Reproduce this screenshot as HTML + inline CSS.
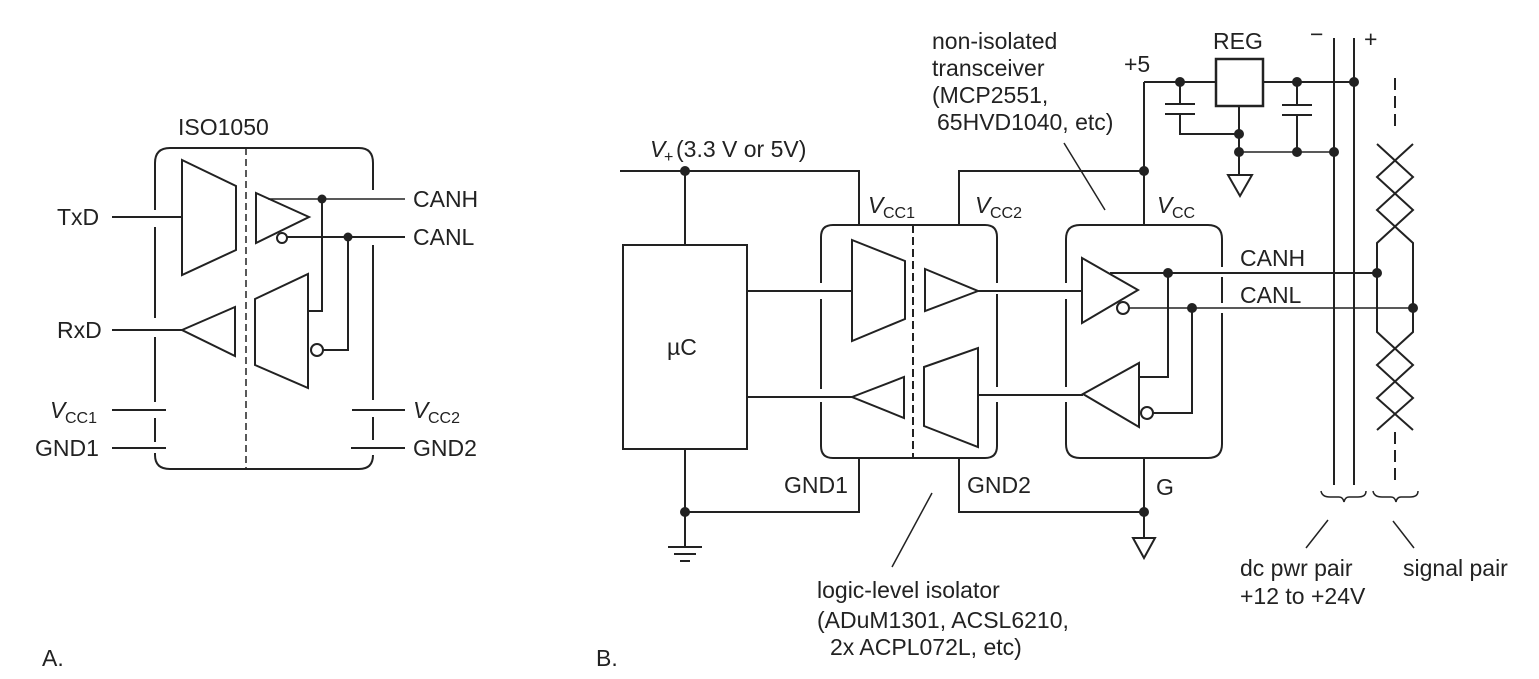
<!DOCTYPE html>
<html><head><meta charset="utf-8"><style>
html,body{margin:0;padding:0;background:#fff;}
svg{display:block;}
text{font-family:"Liberation Sans",sans-serif;font-size:23px;fill:#222;}
.s{font-size:16px;}
</style></head><body>
<svg width="1539" height="679" viewBox="0 0 1539 679" xmlns="http://www.w3.org/2000/svg">
<g stroke="#222" stroke-width="2" fill="none">
<!-- Panel A -->
<path d="M155,163 V210 M155,227 V318 M155,337 V402 M155,418 V442 M155,453 V455 Q155,469 170,469 H359 Q373,469 373,455 V455 M373,440 V417 M373,400 V245 M373,190 V163 Q373,148 359,148 H170 Q155,148 155,163"/>
<line x1="246" y1="148" x2="246" y2="469" stroke-dasharray="7,4" stroke-width="1.5"/>
<polygon points="182,160 236,186 236,250 182,275"/>
<line x1="112" y1="217" x2="182" y2="217"/>
<polygon points="256,193 309,217 256,243"/>
<circle cx="282" cy="238" r="5" fill="#fff"/>
<line x1="268" y1="199" x2="405" y2="199" stroke-width="1.5"/>
<line x1="287" y1="237" x2="405" y2="237"/>
<polygon points="255,299 308,274 308,388 255,365"/>
<polyline points="308,311 322,311 322,199"/>
<circle cx="317" cy="350" r="6" fill="#fff"/>
<polyline points="323,350 348,350 348,237"/>
<polygon points="182,330 235,307 235,356"/>
<line x1="112" y1="330" x2="182" y2="330"/>
<line x1="112" y1="410" x2="166" y2="410"/>
<line x1="112" y1="448" x2="166" y2="448"/>
<line x1="352" y1="410" x2="405" y2="410"/>
<line x1="351" y1="448" x2="405" y2="448"/>

<!-- Panel B -->
<polyline points="620,171 859,171 859,225"/>
<rect x="623" y="245" width="124" height="204"/>
<line x1="685" y1="171" x2="685" y2="245"/>
<line x1="685" y1="449" x2="685" y2="547"/>
<polyline points="685,512 859,512 859,458"/>
<line x1="668" y1="547" x2="702" y2="547"/>
<line x1="674" y1="554" x2="696" y2="554"/>
<line x1="680" y1="561" x2="690" y2="561"/>
<path d="M821,283 V237 Q821,225 833,225 H985 Q997,225 997,237 V283 M997,294 V387 M997,402 V446 Q997,458 985,458 H833 Q821,458 821,446 V402 M821,389 V299"/>
<line x1="913" y1="225" x2="913" y2="458" stroke-dasharray="8,4"/>
<polygon points="852,240 905,261 905,319 852,341"/>
<line x1="747" y1="291" x2="852" y2="291"/>
<polygon points="925,269 978,291 925,311"/>
<line x1="978" y1="291" x2="1082" y2="291"/>
<polygon points="852,397 904,377 904,418"/>
<line x1="747" y1="397" x2="852" y2="397"/>
<polygon points="924,367 978,348 978,447 924,426"/>
<line x1="978" y1="395" x2="1083" y2="395"/>
<polyline points="959,225 959,171 1144,171"/>
<polyline points="959,458 959,512 1144,512"/>
<line x1="932" y1="493" x2="892" y2="567" stroke-width="1.5"/>
<path d="M1066,283 V239 Q1066,225 1080,225 H1208 Q1222,225 1222,239 V267 M1222,277 V303 M1222,313 V444 Q1222,458 1208,458 H1080 Q1066,458 1066,444 V402 M1066,387 V299"/>
<line x1="1144" y1="82" x2="1144" y2="225"/>
<polygon points="1082,258 1138,290 1082,323"/>
<circle cx="1123" cy="308" r="6" fill="#fff"/>
<line x1="1110" y1="273" x2="1377" y2="273"/>
<line x1="1129" y1="308" x2="1413" y2="308" stroke-width="1.5"/>
<polygon points="1083,394 1139,363 1139,427"/>
<polyline points="1139,377 1168,377 1168,273"/>
<circle cx="1147" cy="413" r="6" fill="#fff"/>
<polyline points="1153,413 1192,413 1192,308"/>
<line x1="1144" y1="458" x2="1144" y2="538"/>
<polygon points="1133,538 1155,538 1144,558"/>
<line x1="1064" y1="143" x2="1105" y2="210" stroke-width="1.5"/>
<line x1="1144" y1="82" x2="1216" y2="82"/>
<rect x="1216" y="59" width="47" height="47" stroke-width="2.5"/>
<line x1="1263" y1="82" x2="1354" y2="82"/>
<line x1="1180" y1="82" x2="1180" y2="104"/>
<line x1="1165" y1="104" x2="1195" y2="104"/>
<line x1="1165" y1="114" x2="1195" y2="114"/>
<polyline points="1180,114 1180,134 1239,134"/>
<line x1="1239" y1="106" x2="1239" y2="175"/>
<polygon points="1228,175 1252,175 1240,196"/>
<line x1="1239" y1="152" x2="1334" y2="152" stroke-width="1.5"/>
<line x1="1297" y1="82" x2="1297" y2="105"/>
<line x1="1282" y1="105" x2="1312" y2="105"/>
<line x1="1282" y1="115" x2="1312" y2="115"/>
<line x1="1297" y1="115" x2="1297" y2="152"/>
<line x1="1334" y1="38" x2="1334" y2="485"/>
<line x1="1354" y1="38" x2="1354" y2="485"/>
<line x1="1395" y1="78" x2="1395" y2="128" stroke-dasharray="12,6"/>
<line x1="1395" y1="432" x2="1395" y2="485" stroke-dasharray="12,6"/>
<polyline points="1413,144 1377,177 1413,210 1377,243 1377,332 1413,365 1377,398 1413,430"/>
<polyline points="1377,144 1413,177 1377,210 1413,243 1413,332 1377,365 1413,398 1377,430"/>
<path d="M1321,491 Q1322,497 1330,497 H1339 Q1343,497 1344,502 Q1345,497 1349,497 H1358 Q1366,497 1366,491" stroke-width="1.5"/>
<path d="M1373,491 Q1374,497 1382,497 H1391 Q1395,497 1396,502 Q1397,497 1401,497 H1410 Q1418,497 1418,491" stroke-width="1.5"/>
<line x1="1328" y1="520" x2="1306" y2="548" stroke-width="1.5"/>
<line x1="1393" y1="521" x2="1414" y2="548" stroke-width="1.5"/>
</g>
<g fill="#222">
<circle cx="322" cy="199" r="4.5"/><circle cx="348" cy="237" r="4.5"/>
<circle cx="685" cy="171" r="5"/><circle cx="685" cy="512" r="5"/>
<circle cx="1144" cy="171" r="5"/><circle cx="1144" cy="512" r="5"/>
<circle cx="1168" cy="273" r="5"/><circle cx="1192" cy="308" r="5"/>
<circle cx="1377" cy="273" r="5"/><circle cx="1413" cy="308" r="5"/>
<circle cx="1180" cy="82" r="5"/><circle cx="1297" cy="82" r="5"/><circle cx="1354" cy="82" r="5"/>
<circle cx="1239" cy="134" r="5"/><circle cx="1239" cy="152" r="5"/>
<circle cx="1297" cy="152" r="5"/><circle cx="1334" cy="152" r="5"/>
</g>
<text x="178" y="135">ISO1050</text>
<text x="57" y="225">TxD</text>
<text x="57" y="338">RxD</text>
<text x="50" y="418" font-style="italic">V</text><text class="s" x="65" y="423">CC1</text>
<text x="35" y="456">GND1</text>
<text x="413" y="207">CANH</text>
<text x="413" y="245">CANL</text>
<text x="413" y="418" font-style="italic">V</text><text class="s" x="428" y="423">CC2</text>
<text x="413" y="456">GND2</text>
<text x="42" y="666">A.</text>
<text x="596" y="666">B.</text>
<text x="650" y="157" font-style="italic">V</text><text class="s" x="664" y="162">+</text><text x="676" y="157">(3.3 V or 5V)</text>
<text x="667" y="355">µC</text>
<text x="868" y="213" font-style="italic">V</text><text class="s" x="883" y="218">CC1</text>
<text x="975" y="213" font-style="italic">V</text><text class="s" x="990" y="218">CC2</text>
<text x="1157" y="213" font-style="italic">V</text><text class="s" x="1172" y="218">CC</text>
<text x="784" y="493">GND1</text>
<text x="967" y="493">GND2</text>
<text x="1156" y="495">G</text>
<text x="1240" y="266">CANH</text>
<text x="1240" y="303">CANL</text>
<text x="932" y="49">non-isolated</text>
<text x="932" y="76">transceiver</text>
<text x="932" y="103">(MCP2551,</text>
<text x="937" y="130">65HVD1040, etc)</text>
<text x="1124" y="72">+5</text>
<text x="1213" y="49">REG</text>
<text x="1310" y="42">−</text>
<text x="1364" y="47">+</text>
<text x="817" y="598">logic-level isolator</text>
<text x="817" y="628">(ADuM1301, ACSL6210,</text>
<text x="830" y="655">2x ACPL072L, etc)</text>
<text x="1240" y="576">dc pwr pair</text>
<text x="1240" y="604">+12 to +24V</text>
<text x="1403" y="576">signal pair</text>
</svg>
</body></html>
